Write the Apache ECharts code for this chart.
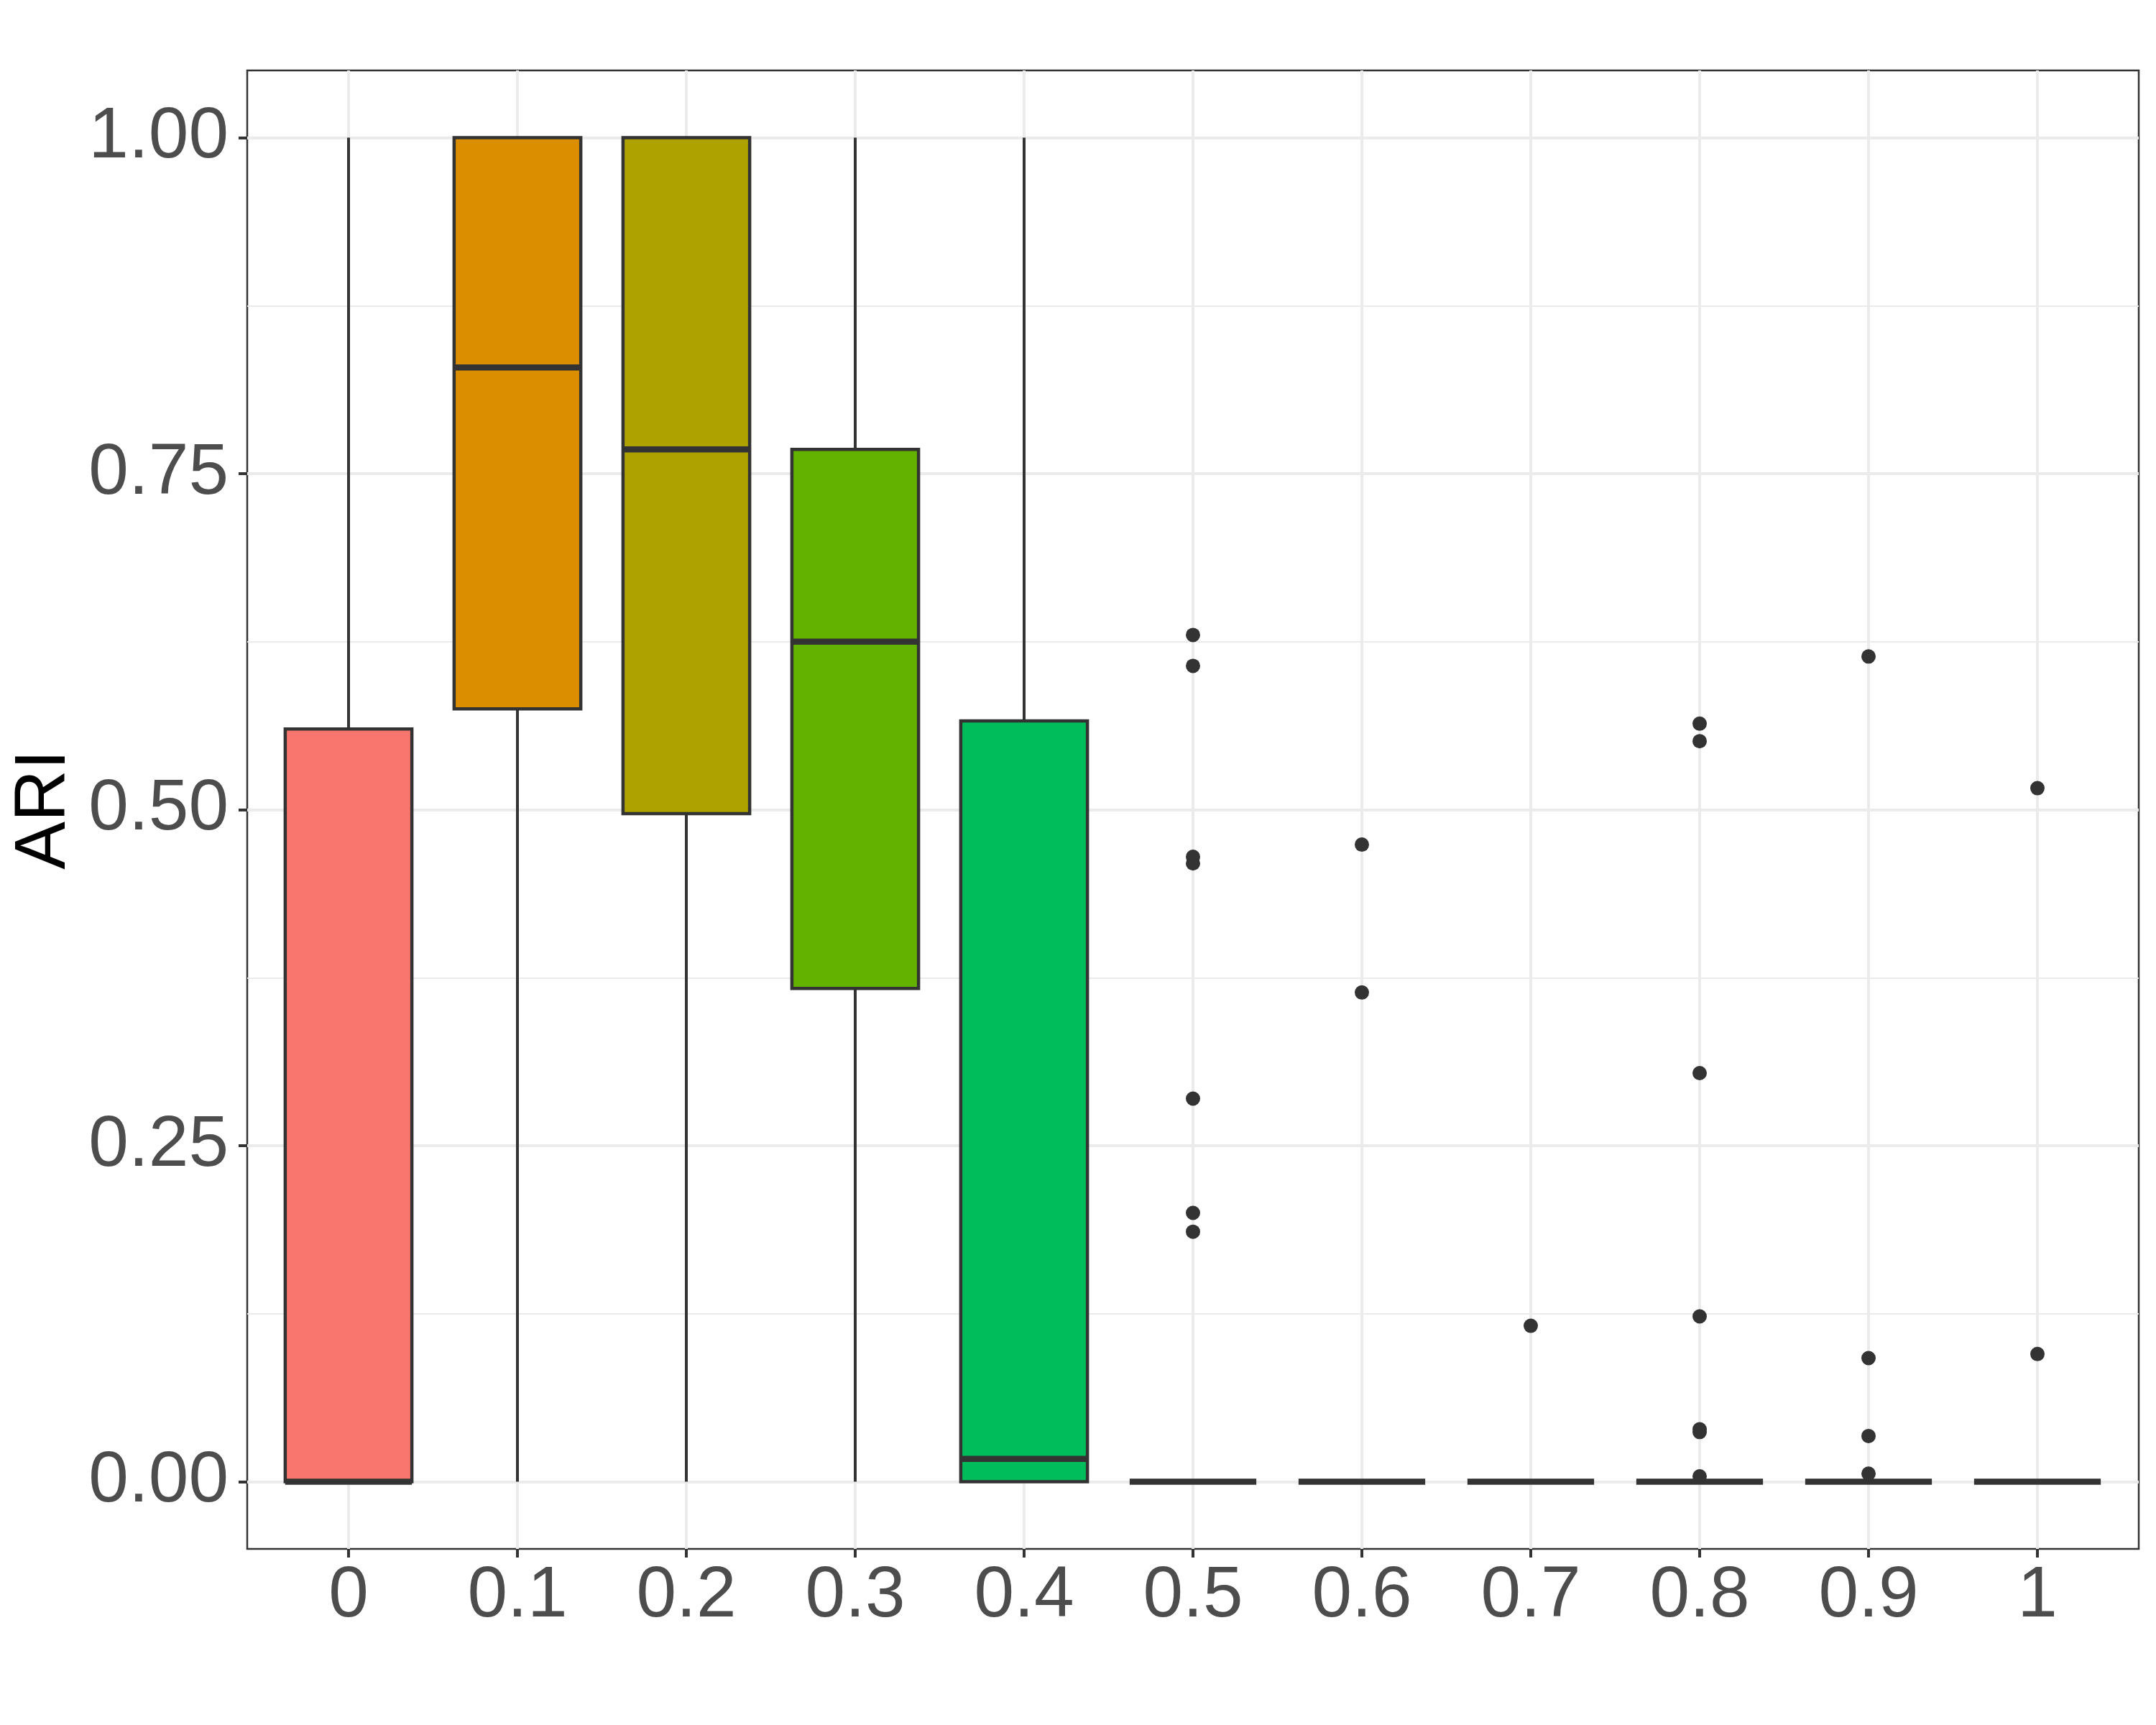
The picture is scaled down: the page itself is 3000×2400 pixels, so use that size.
<!DOCTYPE html>
<html><head><meta charset="utf-8">
<script src="https://cdn.jsdelivr.net/npm/echarts@6/dist/echarts.min.js"></script>
<style>html,body{margin:0;padding:0;background:#fff}#c{width:3000px;height:2400px}</style>
</head><body><div id="c"></div>
<script>
// ---- data ----
const categories = ['0','0.1','0.2','0.3','0.4','0.5','0.6','0.7','0.8','0.9','1'];
const whiskerLow  = [0, 0, 0, 0, 0, 0, 0, 0, 0, 0, 0];
const q1          = [0, 0.575, 0.497, 0.367, 0, 0, 0, 0, 0, 0, 0];
const median      = [0, 0.829, 0.768, 0.625, 0.017, 0, 0, 0, 0, 0, 0];
const q3          = [0.560, 1.0, 1.0, 0.768, 0.566, 0, 0, 0, 0, 0, 0];
const whiskerHigh = [1.0, 1.0, 1.0, 1.0, 1.0, 0, 0, 0, 0, 0, 0];
const outlierValues = [
  [], [], [], [], [],
  [0.630, 0.607, 0.465, 0.460, 0.285, 0.200, 0.186],
  [0.474, 0.364],
  [0.116],
  [0.564, 0.551, 0.304, 0.123, 0.039, 0.037, 0.004],
  [0.614, 0.092, 0.034, 0.006],
  [0.516, 0.095]
];
const yTicks = [0, 0.25, 0.5, 0.75, 1];
const yMinorTicks = [0.125, 0.375, 0.625, 0.875];
const fillColors = ['#F8766D','#DB8E00','#AEA200','#64B200','#00BD5C','#00C1A7','#00BADE','#00A6FF','#B385FF','#EF67EB','#FF63B6'];

const boxData = categories.map((c, i) => [i, whiskerLow[i], q1[i], median[i], q3[i], whiskerHigh[i]]);
const outlierData = [];
outlierValues.forEach((vals, i) => vals.forEach(v => outlierData.push([i, v])));
const catIdx = categories.map((c, i) => i);

const FONT = '"Liberation Sans", Arial, Helvetica, sans-serif';
const DARK = '#333333';

const chart = echarts.init(document.getElementById('c'), null, {renderer: 'canvas'});
chart.setOption({
  backgroundColor: '#ffffff',
  animation: false,
  grid: {left: 344, right: 24, top: 98, bottom: 245, show: true, borderColor: DARK, borderWidth: 2.5,
         backgroundColor: 'transparent', containLabel: false, outerBoundsMode: 'none'},
  xAxis: {
    type: 'value', min: -0.6, max: 10.6,
    axisLine: {show: false, onZero: false},
    axisTick: {show: true, customValues: catIdx, length: 12, lineStyle: {color: DARK, width: 4}},
    axisLabel: {customValues: catIdx, formatter: v => categories[Math.round(v)], color: '#4D4D4D', fontSize: 100, fontFamily: FONT, margin: 16},
    splitLine: {show: true, lineStyle: {color: '#EBEBEB', width: 4}}
  },
  yAxis: [{
    type: 'value', min: -0.05, max: 1.05,
    name: 'ARI', nameLocation: 'middle', nameRotate: 90, nameGap: 230,
    nameTextStyle: {color: '#000', fontSize: 100, fontFamily: FONT},
    axisLine: {show: false, onZero: false},
    axisTick: {show: true, customValues: yTicks, length: 12, lineStyle: {color: DARK, width: 4}},
    axisLabel: {customValues: yTicks, formatter: v => v.toFixed(2), color: '#4D4D4D', fontSize: 100, fontFamily: FONT, margin: 26},
    splitLine: {show: true, lineStyle: {color: '#EBEBEB', width: 4}}
  }, {
    type: 'value', min: -0.05, max: 1.05, position: 'left',
    axisLine: {show: false, onZero: false},
    axisTick: {show: false, customValues: yMinorTicks},
    axisLabel: {show: false, customValues: yMinorTicks},
    splitLine: {show: true, lineStyle: {color: '#EBEBEB', width: 2}}
  }],
  series: [{
    type: 'custom',
    yAxisIndex: 0,
    data: boxData,
    encode: {x: 0, y: [1, 2, 3, 4, 5]},
    z: 3,
    renderItem: function (params, api) {
      const i = api.value(0);
      const lo = api.value(1), a = api.value(2), m = api.value(3), b = api.value(4), hi = api.value(5);
      const w = api.size([0.75, 0])[0];
      const x = api.coord([i, 0])[0];
      const y = v => api.coord([i, v])[1];
      const children = [];
      if (hi > b) children.push({type: 'line', shape: {x1: x, y1: y(hi), x2: x, y2: y(b)}, style: {stroke: DARK, lineWidth: 4}});
      if (a > lo) children.push({type: 'line', shape: {x1: x, y1: y(a), x2: x, y2: y(lo)}, style: {stroke: DARK, lineWidth: 4}});
      if (b > a) children.push({type: 'rect', shape: {x: x - w / 2, y: y(b), width: w, height: y(a) - y(b)}, style: {fill: fillColors[params.dataIndex], stroke: DARK, lineWidth: 4.5}});
      children.push({type: 'line', shape: {x1: x - w / 2, y1: y(m), x2: x + w / 2, y2: y(m)}, style: {stroke: DARK, lineWidth: 8.5, lineCap: 'butt'}});
      return {type: 'group', children: children};
    }
  }, {
    type: 'scatter',
    yAxisIndex: 0,
    data: outlierData,
    symbol: 'circle',
    symbolSize: 20,
    itemStyle: {color: DARK, opacity: 1},
    z: 5
  }]
});
</script>
</body></html>
